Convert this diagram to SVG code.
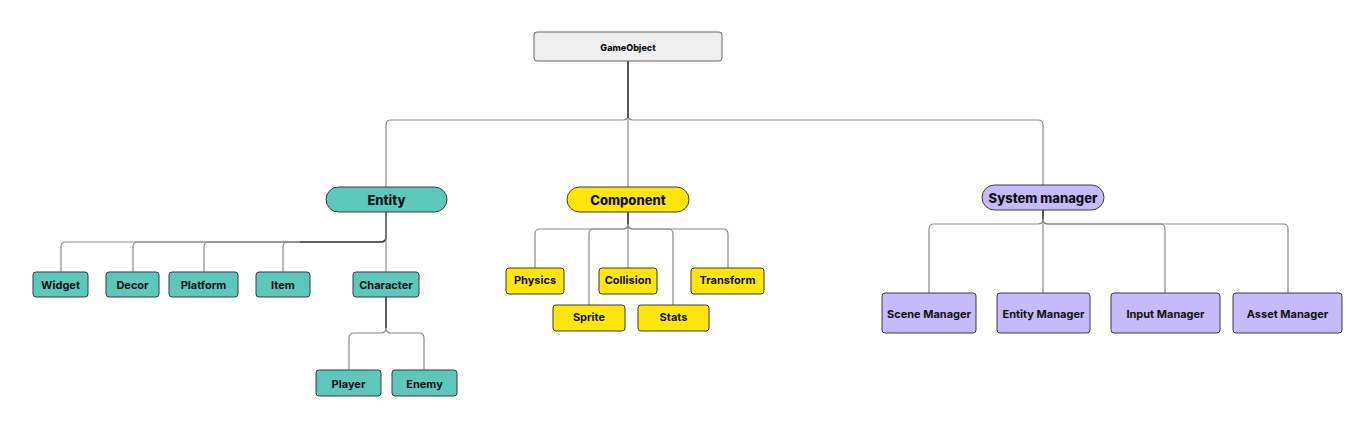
<svg xmlns="http://www.w3.org/2000/svg" width="1372" height="422" viewBox="0 0 1372 422">
<style>
.n{stroke:#3a3a3a;stroke-width:1}
.t{fill:#5cc8bc}.y{fill:#ffe60a}.p{fill:#c6b9fc}.g{fill:#efefef;stroke:#666}
text{font-family:Inter,"Liberation Sans",sans-serif;fill:#111;text-anchor:middle;dominant-baseline:central}
.s{font-size:11px;font-weight:700}
.h{font-size:13px;font-weight:800}
.c path{fill:none;stroke:#8a8a8a;stroke-width:1.2}
.c path.d{stroke:#333}
</style>
<rect width="1372" height="422" fill="#fff"/>
<g class="c" id="connectors">
<path d="M628,61 V115 Q628,120 623,120 H391 Q386,120 386,125 V187"/>
<path d="M628,61 V187"/>
<path d="M628,61 V115 Q628,120 633,120 H1038 Q1043,120 1043,125 V185"/>
<path class="d" d="M628,61 V118"/>
<path d="M386,212 V237 Q386,242 381,242 H66 Q61,242 61,247 V272"/>
<path d="M386,212 V237 Q386,242 381,242 H138 Q133,242 133,247 V272"/>
<path d="M386,212 V237 Q386,242 381,242 H209 Q204,242 204,247 V272"/>
<path d="M386,212 V237 Q386,242 381,242 H288 Q283,242 283,247 V272"/>
<path class="d" d="M386,212 V237 Q386,242 381,242 H300"/>
<path d="M386,212 V272"/>
<path d="M386,297 V328 Q386,333 381,333 H354 Q349,333 349,338 V370"/>
<path d="M386,297 V328 Q386,333 391,333 H419 Q424,333 424,338 V370"/>
<path class="d" d="M386,297 V328"/>
<path d="M628,212 V224 Q628,229 623,229 H540 Q535,229 535,234 V268"/>
<path d="M628,212 V224 Q628,229 623,229 H594 Q589,229 589,234 V305"/>
<path d="M628,212 V268"/>
<path d="M628,212 V224 Q628,229 633,229 H668 Q673,229 673,234 V305"/>
<path d="M628,212 V224 Q628,229 633,229 H723 Q728,229 728,234 V268"/>
<path class="d" d="M628,212 V224"/>
<path d="M1043,210 V219 Q1043,224 1038,224 H934 Q929,224 929,229 V293"/>
<path d="M1043,210 V293"/>
<path d="M1043,210 V219 Q1043,224 1048,224 H1160 Q1165,224 1165,229 V293"/>
<path d="M1043,210 V219 Q1043,224 1048,224 H1283 Q1288,224 1288,229 V293"/>
<path class="d" d="M1043,210 V219"/>
</g>
<g id="gameobject"><rect class="g" x="534" y="32" width="188" height="29" rx="3"/><text x="628" y="47" style="font-size:9px;font-weight:800">GameObject</text></g>
<g id="entity"><rect class="n t" x="326" y="187" width="121" height="25" rx="12.5"/><text class="h" x="386.5" y="200">Entity</text></g>
<g id="component"><rect class="n y" x="567" y="187" width="122" height="25" rx="12.5"/><text class="h" x="628" y="200">Component</text></g>
<g id="systemmanager"><rect class="n p" x="982" y="185" width="122" height="25" rx="12.5"/><text class="h" x="1043" y="198">System manager</text></g>
<g id="widget"><rect class="n t" x="33" y="272" width="55" height="25" rx="3"/><text class="s" x="60.5" y="285">Widget</text></g>
<g id="decor"><rect class="n t" x="106" y="272" width="53" height="25" rx="3"/><text class="s" x="132.5" y="285">Decor</text></g>
<g id="platform"><rect class="n t" x="169" y="272" width="69" height="25" rx="3"/><text class="s" x="203.5" y="285">Platform</text></g>
<g id="item"><rect class="n t" x="256" y="272" width="54" height="25" rx="3"/><text class="s" x="283" y="285">Item</text></g>
<g id="character"><rect class="n t" x="353" y="272" width="66" height="25" rx="3"/><text class="s" x="386" y="285">Character</text></g>
<g id="player"><rect class="n t" x="316" y="370" width="65" height="26" rx="3"/><text class="s" x="348.5" y="383.5">Player</text></g>
<g id="enemy"><rect class="n t" x="392" y="370" width="65" height="26" rx="3"/><text class="s" x="424.5" y="383.5">Enemy</text></g>
<g id="physics"><rect class="n y" x="506" y="268" width="58" height="26" rx="3"/><text class="s" x="535" y="279.5">Physics</text></g>
<g id="collision"><rect class="n y" x="599" y="268" width="58" height="26" rx="3"/><text class="s" x="628" y="279.5">Collision</text></g>
<g id="transform"><rect class="n y" x="691" y="268" width="73" height="26" rx="3"/><text class="s" x="727.5" y="279.5">Transform</text></g>
<g id="sprite"><rect class="n y" x="553" y="305" width="72" height="26" rx="3"/><text class="s" x="589" y="316.5">Sprite</text></g>
<g id="stats"><rect class="n y" x="638" y="305" width="71" height="26" rx="3"/><text class="s" x="673.5" y="316.5">Stats</text></g>
<g id="scenemanager"><rect class="n p" x="882" y="293" width="94" height="40" rx="3"/><text class="s" x="929" y="314">Scene Manager</text></g>
<g id="entitymanager"><rect class="n p" x="997" y="293" width="93" height="40" rx="3"/><text class="s" x="1043.5" y="314">Entity Manager</text></g>
<g id="inputmanager"><rect class="n p" x="1111" y="293" width="109" height="40" rx="3"/><text class="s" x="1165.5" y="314">Input Manager</text></g>
<g id="assetmanager"><rect class="n p" x="1233" y="293" width="109" height="40" rx="3"/><text class="s" x="1287.5" y="314">Asset Manager</text></g>
</svg>
